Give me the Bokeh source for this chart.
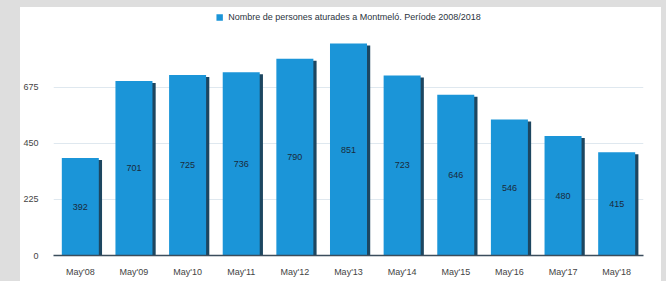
from bokeh.plotting import figure
from bokeh.models import (ColumnDataSource, Legend, LegendItem, FactorRange, LabelSet,
                          Range1d, FixedTicker, Spacer)
from bokeh.core.properties import value
from bokeh.layouts import row, column
from bokeh.transform import dodge
from bokeh.embed import file_html
from bokeh.resources import INLINE

categories = ["May'08", "May'09", "May'10", "May'11", "May'12", "May'13",
              "May'14", "May'15", "May'16", "May'17", "May'18"]
values = [392, 701, 725, 736, 790, 851, 723, 646, 546, 480, 415]
labels = [str(v) for v in values]
y_ticks = [0, 225, 450, 675]
series_name = "Nombre de persones aturades a Montmeló. Període 2008/2018"

BLUE = "#1b95d8"
SHADOW = "#1d4660"
GRAY = "#dedede"
FONT = "Liberation Sans"
H = 274

src = ColumnDataSource(dict(cat=categories, val=values,
                            mid=[v / 2 for v in values], lab=labels,
                            stop=[v - 8 for v in values]))

p = figure(x_range=FactorRange(factors=categories, range_padding=0),
           y_range=Range1d(0, 984),
           width=641, height=H, output_backend="svg", toolbar_location=None,
           min_border_left=32, min_border_right=18, min_border_top=3, min_border_bottom=26)
p.outline_line_color = None
p.background_fill_color = "white"
p.border_fill_color = "white"

p.vbar(x=dodge('cat', 0.06, range=p.x_range), top='stop', width=0.69, source=src,
       fill_color=SHADOW, line_color=None)
r = p.vbar(x='cat', top='val', width=0.69, source=src, fill_color=BLUE, line_color=None)

lbl = LabelSet(x='cat', y='mid', text='lab', source=src, text_align='center',
               text_baseline='middle', text_font_size=value('9px'), text_color="#1a2a3a",
               text_font=value(FONT))
p.add_layout(lbl)

p.xgrid.grid_line_color = None
p.ygrid.grid_line_color = "#dfe8ef"
p.ygrid.grid_line_width = 1

p.yaxis.ticker = FixedTicker(ticks=y_ticks)
p.yaxis.axis_line_color = None
p.yaxis.major_tick_line_color = None
p.yaxis.minor_tick_line_color = None
p.yaxis.major_label_standoff = 9
p.yaxis.major_label_text_font_size = '9px'
p.yaxis.major_label_text_color = "#444444"
p.yaxis.major_label_text_font = FONT

p.xaxis.axis_line_color = "#3b4d5c"
p.xaxis.axis_line_width = 1.5
p.xaxis.major_tick_line_color = None
p.xaxis.minor_tick_line_color = None
p.xaxis.major_label_standoff = 5
p.xaxis.major_label_text_font_size = '9px'
p.xaxis.major_label_text_color = "#444444"
p.xaxis.major_label_text_font = FONT

legend = Legend(items=[LegendItem(label=series_name, renderers=[r])],
                location="top_center", orientation="horizontal",
                label_text_font_size='9px', label_text_font=FONT, label_text_color="#2b3440",
                glyph_width=8, glyph_height=8, label_height=10, label_standoff=5,
                padding=2, margin=2, border_line_color=None, background_fill_alpha=0)
p.add_layout(legend)

top = Spacer(width=666, height=7, styles={"background-color": GRAY})
left = Spacer(width=20, height=H, styles={"background-color": GRAY})
right = Spacer(width=5, height=H, styles={"background-color": GRAY})
layout = column(top, row(left, p, right))

open("out.html", "w").write(file_html(layout, INLINE))
